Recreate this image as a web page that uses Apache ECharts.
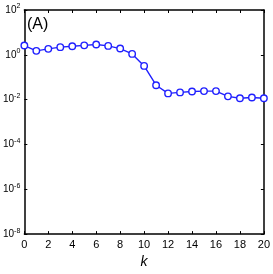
<!DOCTYPE html>
<html><head><meta charset="utf-8">
<script src="https://cdn.jsdelivr.net/npm/echarts@6/dist/echarts.min.js"></script>
<style>html,body{margin:0;padding:0;background:#fff}#c{width:273px;height:274px}</style>
</head><body><div id="c"></div>
<script>
var kValues = [0,1,2,3,4,5,6,7,8,9,10,11,12,13,14,15,16,17,18,19,20];
var seriesA = [2.6,1.5,1.85,2.2,2.4,2.65,2.9,2.5,1.9,1.1,0.32,0.044,0.019,0.021,0.023,0.024,0.024,0.014,0.0115,0.0124,0.0115];
var panelLabel = '(A)';
var xLabel = 'k';

var chart = echarts.init(document.getElementById('c'));
var data = kValues.map(function(k,i){return [k, seriesA[i]];});
var FONT = 'Liberation Sans';
function expLabel(v){
  var e = Math.round(Math.log10(v));
  return '{b|10}{s|' + e + '}';
}
chart.setOption({
  animation:false,
  grid:{left:23,right:7,top:10,bottom:28,containLabel:false},
  xAxis:[{
    type:'value',min:0,max:20,interval:2,
    axisLine:{show:true,onZero:false,lineStyle:{color:'#000',width:1.5}},
    axisTick:{show:true,inside:true,length:3,lineStyle:{color:'#000'}},
    axisLabel:{fontFamily:FONT,fontSize:11,color:'#000',margin:5},
    splitLine:{show:false},
    name:xLabel,nameLocation:'middle',nameGap:16,
    nameTextStyle:{fontFamily:FONT,fontStyle:'italic',fontSize:14,color:'#000'}
  },{
    type:'value',min:0,max:20,interval:2,position:'top',
    axisLine:{show:true,onZero:false,lineStyle:{color:'#000',width:1.5}},
    axisTick:{show:true,inside:true,length:3,lineStyle:{color:'#000'}},
    axisLabel:{show:false},splitLine:{show:false}
  }],
  yAxis:[{
    type:'log',logBase:10,min:1e-8,max:100,interval:2,
    axisLine:{show:true,onZero:false,lineStyle:{color:'#000',width:1.5}},
    axisTick:{show:true,inside:true,length:3,lineStyle:{color:'#000'}},
    minorTick:{show:false},
    axisLabel:{fontFamily:FONT,color:'#000',margin:4,formatter:expLabel,
      rich:{b:{fontFamily:FONT,fontSize:10,color:'#000'},
            s:{fontFamily:FONT,fontSize:7,color:'#000',padding:[0,0,7,0]}}},
    splitLine:{show:false}
  },{
    type:'log',logBase:10,min:1e-8,max:100,interval:2,position:'right',
    axisLine:{show:true,onZero:false,lineStyle:{color:'#000',width:1.5}},
    axisTick:{show:true,inside:true,length:3,lineStyle:{color:'#000'}},
    axisLabel:{show:false},splitLine:{show:false}
  }],
  graphic:[{type:'text',left:27,top:17,style:{text:panelLabel,fontFamily:FONT,fontSize:16,fill:'#000'}}],
  series:[{
    type:'line',data:data,xAxisIndex:0,yAxisIndex:0,
    symbol:'circle',symbolSize:6.5,
    lineStyle:{color:'#2020ff',width:1.4},
    itemStyle:{color:'#fff',borderColor:'#2020ff',borderWidth:1.4}
  }]
});
</script></body></html>
